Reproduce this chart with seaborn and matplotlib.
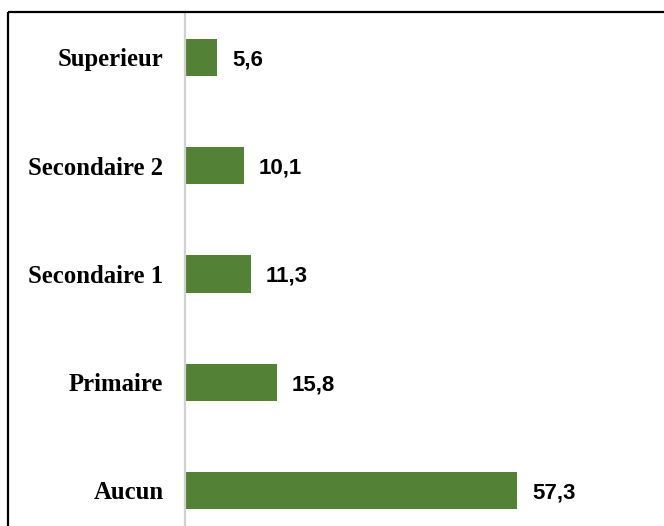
import matplotlib
matplotlib.use("Agg")
import matplotlib.pyplot as plt
from matplotlib.lines import Line2D
import seaborn as sns
import pandas as pd

categories = ["Superieur", "Secondaire 2", "Secondaire 1", "Primaire", "Aucun"]
values = [5.6, 10.1, 11.3, 15.8, 57.3]
value_labels = ["5,6", "10,1", "11,3", "15,8", "57,3"]

df = pd.DataFrame({"cat": categories, "val": values})

sns.set_theme(style="white")
fig = plt.figure(figsize=(6.64, 5.26), dpi=100)
W, H = 664, 526
ax_left, ax_top = 185, 12
ax = fig.add_axes([ax_left / W, 0, 1 - ax_left / W, 1 - ax_top / H])

sns.barplot(data=df, y="cat", x="val", orient="h", color="#538135",
            saturation=1, width=0.346, linewidth=0, ax=ax)

ax.set_ylim(4.328, -0.42)
ax.set_xlim(0, (W - ax_left) / 5.8)
ax.set_xlabel("")
ax.set_ylabel("")
ax.set_xticks([])
for s in ["top", "right", "bottom"]:
    ax.spines[s].set_visible(False)
ax.spines["left"].set_color("#d0d0d0")
ax.spines["left"].set_linewidth(1.6)
ax.tick_params(axis="y", length=0, pad=15.5)
for lab in ax.get_yticklabels():
    lab.set_fontfamily("Liberation Serif")
    lab.set_fontweight("bold")
    lab.set_fontsize(17.8)
    lab.set_color("#000000")

for i, (v, t) in enumerate(zip(values, value_labels)):
    ax.annotate(t, xy=(v, i), xytext=(11, 0), textcoords="offset points",
                ha="left", va="center_baseline", fontsize=16, fontweight="bold",
                fontfamily="Liberation Sans", color="#000000")

# outer frame (top and left only)
fig.add_artist(Line2D([7.5 / W, 1.0], [1 - 12 / H, 1 - 12 / H], transform=fig.transFigure,
                      color="black", linewidth=1.6, solid_capstyle="butt"))
fig.add_artist(Line2D([7.5 / W, 7.5 / W], [1 - 12 / H, 0], transform=fig.transFigure,
                      color="black", linewidth=1.6, solid_capstyle="butt"))

fig.savefig("out.png", dpi=100, facecolor="white")
